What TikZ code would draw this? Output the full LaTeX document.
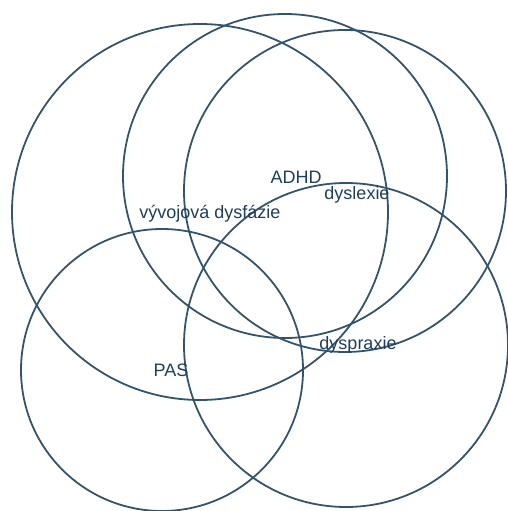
\documentclass[tikz,border=0pt]{standalone}
\usepackage{fontspec}
\setmainfont{Liberation Sans}
\definecolor{ringcol}{RGB}{52,84,110}
\definecolor{txtcol}{RGB}{30,62,92}
\begin{document}
\begin{tikzpicture}[x=1pt,y=-1pt,
  ring/.style={circle,draw=ringcol,line width=1.8pt,inner sep=0pt,outer sep=0pt,minimum size=#1},
  lbl/.style={text=txtcol,inner sep=0pt,font=\fontsize{18}{20}\selectfont}]
\useasboundingbox (0,0) rectangle (507,511);
\node[ring=376pt] (dysf) at (200,212) {};
\node[ring=324pt] (adhd) at (285,176) {};
\node[ring=322pt] (dysl) at (345,191) {};
\node[ring=282pt] (pas) at (162,370) {};
\node[ring=324pt] (dysp) at (346,345) {};
\node[lbl] (tadhd) at (296,177) {ADHD};
\node[lbl] (tdysl) at (357,195) {dyslexie};
\node[lbl] (tdysf) at (210,214) {vývojová dysfázie};
\node[lbl] (tdysp) at (358,345) {dyspraxie};
\node[lbl] (tpas) at (171,370) {PAS};
\end{tikzpicture}
\end{document}
